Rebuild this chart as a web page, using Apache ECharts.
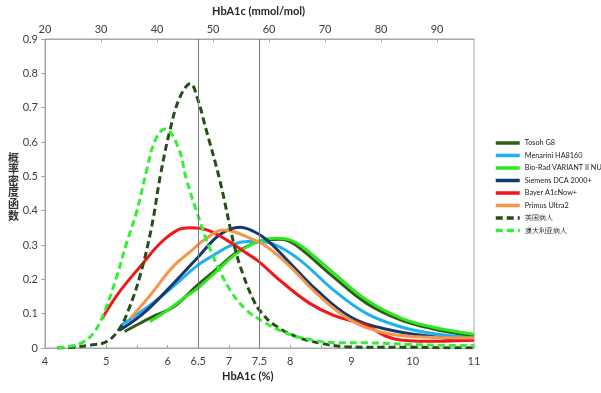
<!DOCTYPE html>
<html><head><meta charset="utf-8">
<script src="https://cdn.jsdelivr.net/npm/echarts@6/dist/echarts.min.js"></script>
<style>html,body{margin:0;padding:0;background:#fff}#c{width:601px;height:393px}</style>
</head><body><div id="c"></div>
<script>
// ---- data ----
var seriesNames = ['Tosoh G8','Menarini HA8160','Bio-Rad VARIANT II NU','Siemens DCA 2000+','Bayer A1cNow+','Primus Ultra2','英国病人','澳大利亚病人'];

var tosohX = [5.3,5.55,5.8,6.1,6.5,6.85,7.1,7.4,7.62,7.83,8.0,8.2,8.7,9.25,9.8,10.3,11];
var tosohY = [0.048,0.072,0.095,0.12,0.185,0.237,0.275,0.305,0.315,0.317,0.31,0.285,0.208,0.13,0.082,0.057,0.035];

var menariniX = [5.25,5.6,6.0,6.5,6.75,7.07,7.3,7.45,7.72,8.16,8.7,9.25,9.8,10.3,11];
var menariniY = [0.067,0.11,0.165,0.242,0.27,0.302,0.31,0.31,0.303,0.256,0.17,0.10,0.062,0.043,0.029];

var bioradX = [5.71,6.0,6.3,6.5,6.85,7.1,7.4,7.6,7.8,8.0,8.2,8.7,9.25,9.8,10.3,11];
var bioradY = [0.077,0.11,0.15,0.175,0.232,0.272,0.305,0.317,0.32,0.315,0.295,0.22,0.14,0.088,0.062,0.04];

var siemensX = [5.22,5.6,6.0,6.5,6.85,7.18,7.4,7.62,8.0,8.43,8.98,9.52,10.33,11];
var siemensY = [0.052,0.1,0.17,0.265,0.33,0.352,0.34,0.315,0.247,0.169,0.091,0.057,0.033,0.023];

var bayerX = [4.92,5.2,5.6,5.88,6.17,6.37,6.64,6.96,7.29,7.48,7.88,8.32,8.7,9.25,9.45,9.6,9.8,10.1,10.5,11];
var bayerY = [0.082,0.16,0.247,0.305,0.344,0.35,0.344,0.315,0.276,0.253,0.19,0.13,0.096,0.065,0.045,0.032,0.023,0.02,0.02,0.023];

var primusX = [5.39,5.7,6.09,6.4,6.6,6.91,7.1,7.34,7.62,8.0,8.43,8.98,9.52,10.06,11];
var primusY = [0.086,0.15,0.237,0.285,0.315,0.344,0.338,0.32,0.295,0.237,0.159,0.082,0.045,0.033,0.029];

var ukX = [4.2,4.5,4.8,5.0,5.2,5.36,5.55,5.74,5.88,6.04,6.2,6.37,6.5,6.6,6.85,7.1,7.24,7.4,7.5,7.72,8.1,8.5,8.9,9.5,10,10.5,11];
var ukY = [0.0,0.003,0.01,0.018,0.052,0.11,0.21,0.353,0.5,0.635,0.73,0.77,0.72,0.655,0.49,0.29,0.21,0.14,0.11,0.07,0.033,0.014,0.004,0.002,0.002,0.001,0.001];

var auX = [4.2,4.4,4.6,4.8,4.98,5.17,5.33,5.5,5.66,5.8,5.96,6.17,6.31,6.47,6.7,7.02,7.29,7.56,7.94,8.37,8.81,9.25,10,10.5,11];
var auY = [0.0,0.005,0.015,0.045,0.11,0.208,0.305,0.40,0.518,0.606,0.638,0.586,0.49,0.40,0.285,0.169,0.11,0.077,0.043,0.023,0.015,0.015,0.01,0.008,0.007];

var refLines = [6.5, 7.5];
var bottomLabels = [4,5,6,6.5,7,7.5,8,9,10,11];
var yTitle = '概率密度函数';

// ---- build ----
function pairs(xs, ys){ return xs.map(function(x,i){ return [x, ys[i]]; }); }
var allX = [tosohX,menariniX,bioradX,siemensX,bayerX,primusX,ukX,auX];
var allY = [tosohY,menariniY,bioradY,siemensY,bayerY,primusY,ukY,auY];
var colors = ['#2b5e14','#1fb0ee','#2de81e','#17386e','#f21616','#f5974a','#254f17','#35ee35'];
var dashed = [false,false,false,false,false,false,true,true];

var series = seriesNames.map(function(n,i){
  var s = {
    name: n, type: 'line', data: pairs(allX[i], allY[i]), smooth: 0.4,
    showSymbol: false, symbol: 'none', xAxisIndex: 0, yAxisIndex: 0,
    lineStyle: { color: colors[i], width: 3, type: dashed[i] ? [7,4] : 'solid', cap:'butt' },
    itemStyle: { color: colors[i] }
  };
  if (i === 0) {
    s.markLine = { silent: true, symbol: ['none','none'], label: {show:false},
      lineStyle: { color: '#7a7a7a', width: 1, type: 'solid' },
      data: refLines.map(function(v){ return {xAxis: v}; }) };
  }
  return s;
});

var font = 'Lato, "Open Sans", sans-serif';
var graphics = [
  { type: 'text', left: 212, top: 6, style: { text: 'HbA1c (mmol/mol)', font: 'bold 11px ' + font, fill: '#262626' } },
  { type: 'text', left: 222, top: 371, style: { text: 'HbA1c (%)', font: 'bold 11px ' + font, fill: '#262626' } }
];
yTitle.split('').forEach(function(ch, i){
  graphics.push({ type: 'text', left: 8, top: 152 + i * 11.6, style: { text: ch, font: 'bold 11px "Noto Sans CJK SC"', fill: '#333' } });
});

var chart = echarts.init(document.getElementById('c'), null, {renderer:'canvas'});
chart.setOption({
  animation: false,
  textStyle: { fontFamily: font },
  grid: { left: 45, right: 127, top: 39, bottom: 45, show: true, borderColor: '#a6a6a6', borderWidth: 1 },
  legend: {
    orient: 'vertical', left: 489, top: 134, itemWidth: 24, itemHeight: 10, itemGap: 4.5,
    itemStyle: { opacity: 0 },
    lineStyle: { width: 3.5 },
    textStyle: { fontSize: 7.3, color: '#222', fontFamily: font },
    data: seriesNames
  },
  xAxis: [{
    type: 'value', min: 4, max: 11, interval: 0.5, position: 'bottom',
    axisLine: { lineStyle: { color: '#a6a6a6' } },
    axisTick: { show: true, inside: true, length: 3, lineStyle: { color: '#a6a6a6' } },
    splitLine: { show: false },
    axisLabel: { color: '#404040', fontSize: 11, margin: 8,
      formatter: function(v){ return bottomLabels.indexOf(v) >= 0 ? String(v) : ''; } }
  },{
    type: 'value', min: 20, max: 96.6, interval: 10, position: 'top',
    axisLine: { lineStyle: { color: '#a6a6a6' } },
    axisTick: { show: true, inside: true, length: 3, lineStyle: { color: '#a6a6a6' } },
    splitLine: { show: false },
    axisLabel: { color: '#404040', fontSize: 11, margin: 4, showMaxLabel: false }
  }],
  yAxis: [{
    type: 'value', min: 0, max: 0.9, interval: 0.1,
    axisLine: { show: true, lineStyle: { color: '#a6a6a6' } },
    axisTick: { show: true, length: 4, lineStyle: { color: '#a6a6a6' } },
    splitLine: { show: false },
    axisLabel: { color: '#404040', fontSize: 11, margin: 7,
      formatter: function(v){ return v === 0 ? '0' : v.toFixed(1); } }
  }],
  graphic: graphics,
  series: series
});
</script></body></html>
